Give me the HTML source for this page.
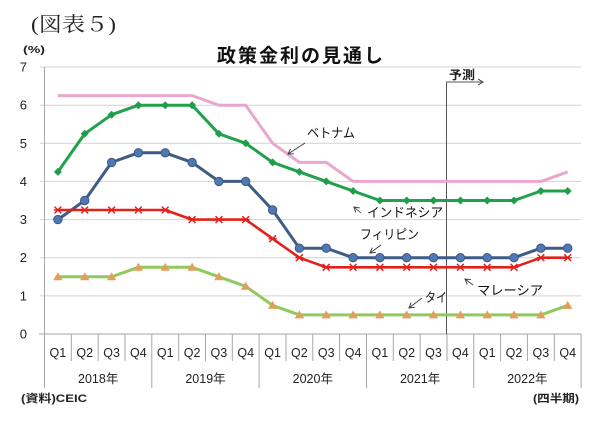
<!DOCTYPE html>
<html><head><meta charset="utf-8"><style>
html,body{margin:0;padding:0;background:#fff;}
svg{display:block;}
</style></head><body>
<svg width="600" height="426" viewBox="0 0 600 426" xmlns="http://www.w3.org/2000/svg" font-family="'Liberation Sans','Noto Sans CJK JP',sans-serif">
<defs>
<marker id="mD" markerWidth="10" markerHeight="10" refX="5" refY="5" markerUnits="userSpaceOnUse" orient="0"><polygon points="5,1 9,5 5,9 1,5" fill="#1E9E4A"/></marker>
<marker id="mC" markerWidth="12" markerHeight="12" refX="6" refY="6" markerUnits="userSpaceOnUse" orient="0"><circle cx="6" cy="6" r="4.2" fill="#5079B2" stroke="#3B5883" stroke-width="1"/></marker>
<marker id="mX" markerWidth="12" markerHeight="12" refX="6" refY="6" markerUnits="userSpaceOnUse" orient="0"><path d="M2.6,2.6 L9.4,9.4 M9.4,2.6 L2.6,9.4 M2,6 L10,6" stroke="#E3211B" stroke-width="1.5" fill="none"/></marker>
<marker id="mT" markerWidth="12" markerHeight="12" refX="6" refY="6" markerUnits="userSpaceOnUse" orient="0"><polygon points="6,1.5 10.7,9.5 1.3,9.5" fill="#E39E5E"/></marker>
<marker id="ah" markerWidth="8" markerHeight="8" refX="6" refY="4" markerUnits="userSpaceOnUse" orient="auto"><path d="M1,1 L6,4 L1,7" stroke="#333" stroke-width="0.9" fill="none"/></marker>
</defs>

<!-- header -->
<text x="31" y="31" font-size="20" font-family="'Liberation Serif','Noto Serif CJK SC',serif" textLength="85" lengthAdjust="spacingAndGlyphs" fill="#222">(図表５)</text>
<text x="23" y="53" font-size="10" font-weight="bold" textLength="22" lengthAdjust="spacingAndGlyphs" fill="#222">(%)</text>
<text x="217" y="62" font-size="19" font-weight="bold" textLength="166" lengthAdjust="spacing" fill="#111">政策金利の見通し</text>

<!-- gridlines -->
<g stroke="#D2D2D2" stroke-width="1">
<line x1="40" y1="295.9" x2="581" y2="295.9"/>
<line x1="40" y1="257.7" x2="581" y2="257.7"/>
<line x1="40" y1="219.6" x2="581" y2="219.6"/>
<line x1="40" y1="181.4" x2="581" y2="181.4"/>
<line x1="40" y1="143.3" x2="581" y2="143.3"/>
<line x1="40" y1="105.2" x2="581" y2="105.2"/>
<line x1="40" y1="67" x2="581" y2="67"/>
</g>
<!-- axes -->
<g stroke="#A6A6A6" stroke-width="1">
<line x1="44.5" y1="67" x2="44.5" y2="388"/>
<line x1="39" y1="334" x2="581" y2="334"/>
<line x1="71.3" y1="334" x2="71.3" y2="361"/>
<line x1="98.2" y1="334" x2="98.2" y2="361"/>
<line x1="125" y1="334" x2="125" y2="361"/>
<line x1="151.8" y1="334" x2="151.8" y2="388"/>
<line x1="178.7" y1="334" x2="178.7" y2="361"/>
<line x1="205.5" y1="334" x2="205.5" y2="361"/>
<line x1="232.3" y1="334" x2="232.3" y2="361"/>
<line x1="259.1" y1="334" x2="259.1" y2="388"/>
<line x1="286" y1="334" x2="286" y2="361"/>
<line x1="312.8" y1="334" x2="312.8" y2="361"/>
<line x1="339.6" y1="334" x2="339.6" y2="361"/>
<line x1="366.5" y1="334" x2="366.5" y2="388"/>
<line x1="393.3" y1="334" x2="393.3" y2="361"/>
<line x1="420.1" y1="334" x2="420.1" y2="361"/>
<line x1="447" y1="334" x2="447" y2="361"/>
<line x1="473.8" y1="334" x2="473.8" y2="388"/>
<line x1="500.6" y1="334" x2="500.6" y2="361"/>
<line x1="527.4" y1="334" x2="527.4" y2="361"/>
<line x1="554.3" y1="334" x2="554.3" y2="361"/>
<line x1="581.1" y1="334" x2="581.1" y2="388"/>
</g>

<!-- y labels -->
<g font-size="13" fill="#222" text-anchor="end">
<text x="27" y="338.5">0</text>
<text x="27" y="300.4">1</text>
<text x="27" y="262.2">2</text>
<text x="27" y="224.1">3</text>
<text x="27" y="185.9">4</text>
<text x="27" y="147.8">5</text>
<text x="27" y="109.7">6</text>
<text x="27" y="71.5">7</text>
</g>

<!-- x labels -->
<g font-size="12.5" fill="#222" text-anchor="middle">
<text x="57.9" y="357">Q1</text><text x="84.7" y="357">Q2</text><text x="111.6" y="357">Q3</text><text x="138.4" y="357">Q4</text>
<text x="165.2" y="357">Q1</text><text x="192.1" y="357">Q2</text><text x="218.9" y="357">Q3</text><text x="245.7" y="357">Q4</text>
<text x="272.6" y="357">Q1</text><text x="299.4" y="357">Q2</text><text x="326.2" y="357">Q3</text><text x="353.1" y="357">Q4</text>
<text x="379.9" y="357">Q1</text><text x="406.7" y="357">Q2</text><text x="433.5" y="357">Q3</text><text x="460.4" y="357">Q4</text>
<text x="487.2" y="357">Q1</text><text x="514" y="357">Q2</text><text x="540.9" y="357">Q3</text><text x="567.7" y="357">Q4</text>
<text x="98.2" y="383">2018年</text>
<text x="205.5" y="383">2019年</text>
<text x="312.8" y="383">2020年</text>
<text x="420.1" y="383">2021年</text>
<text x="527.4" y="383">2022年</text>
</g>

<text x="21" y="402" font-size="11" font-weight="bold" fill="#222" textLength="66" lengthAdjust="spacingAndGlyphs">(資料)CEIC</text>
<text x="533" y="402" font-size="11" font-weight="bold" fill="#222" textLength="46" lengthAdjust="spacingAndGlyphs">(四半期)</text>

<!-- forecast line -->
<line x1="446.5" y1="82" x2="446.5" y2="334" stroke="#555" stroke-width="1"/>
<line x1="446.5" y1="82" x2="483" y2="82" stroke="#555" stroke-width="0.9" marker-end="url(#ah)"/>
<text x="449" y="79" font-size="12" font-weight="bold" fill="#222" textLength="26" lengthAdjust="spacingAndGlyphs">予測</text>

<!-- series -->
<polyline fill="none" stroke="#EBA6CF" stroke-width="3" stroke-linejoin="round" points="57.9,95.6 84.7,95.6 111.6,95.6 138.4,95.6 165.2,95.6 192.1,95.6 218.9,105.2 245.7,105.2 272.6,143.3 299.4,162.4 326.2,162.4 353.1,181.4 379.9,181.4 406.7,181.4 433.5,181.4 460.4,181.4 487.2,181.4 514,181.4 540.9,181.4 567.7,171.9"/>

<polyline fill="none" stroke="#22A04B" stroke-width="3" stroke-linejoin="round" marker-start="url(#mD)" marker-mid="url(#mD)" marker-end="url(#mD)" points="57.9,171.9 84.7,133.8 111.6,114.7 138.4,105.2 165.2,105.2 192.1,105.2 218.9,133.8 245.7,143.3 272.6,162.4 299.4,171.9 326.2,181.4 353.1,191 379.9,200.5 406.7,200.5 433.5,200.5 460.4,200.5 487.2,200.5 514,200.5 540.9,191 567.7,191"/>

<polyline fill="none" stroke="#3F5C87" stroke-width="3" stroke-linejoin="round" marker-start="url(#mC)" marker-mid="url(#mC)" marker-end="url(#mC)" points="57.9,219.6 84.7,200.5 111.6,162.4 138.4,152.8 165.2,152.8 192.1,162.4 218.9,181.4 245.7,181.4 272.6,210 299.4,248.2 326.2,248.2 353.1,257.7 379.9,257.7 406.7,257.7 433.5,257.7 460.4,257.7 487.2,257.7 514,257.7 540.9,248.2 567.7,248.2"/>

<polyline fill="none" stroke="#E3211B" stroke-width="2.6" stroke-linejoin="round" marker-start="url(#mX)" marker-mid="url(#mX)" marker-end="url(#mX)" points="57.9,210 84.7,210 111.6,210 138.4,210 165.2,210 192.1,219.6 218.9,219.6 245.7,219.6 272.6,238.7 299.4,257.7 326.2,267.3 353.1,267.3 379.9,267.3 406.7,267.3 433.5,267.3 460.4,267.3 487.2,267.3 514,267.3 540.9,257.7 567.7,257.7"/>

<polyline fill="none" stroke="#90C95C" stroke-width="3" stroke-linejoin="round" marker-start="url(#mT)" marker-mid="url(#mT)" marker-end="url(#mT)" points="57.9,276.8 84.7,276.8 111.6,276.8 138.4,267.3 165.2,267.3 192.1,267.3 218.9,276.8 245.7,286.3 272.6,305.4 299.4,314.9 326.2,314.9 353.1,314.9 379.9,314.9 406.7,314.9 433.5,314.9 460.4,314.9 487.2,314.9 514,314.9 540.9,314.9 567.7,305.4"/>

<!-- annotations -->
<g font-size="13" fill="#111">
<text x="307" y="137.5" textLength="48" lengthAdjust="spacingAndGlyphs">ベトナム</text>
<text x="367" y="217" textLength="76" lengthAdjust="spacingAndGlyphs">インドネシア</text>
<text x="360" y="239" textLength="59" lengthAdjust="spacingAndGlyphs">フィリピン</text>
<text x="477" y="295" textLength="66" lengthAdjust="spacingAndGlyphs">マレーシア</text>
<text x="425" y="302" textLength="22" lengthAdjust="spacingAndGlyphs">タイ</text>
</g>
<g stroke="#333" stroke-width="0.8" fill="none">
<line x1="305" y1="143" x2="288" y2="154" marker-end="url(#ah)"/>
<line x1="361" y1="213" x2="354" y2="207" marker-end="url(#ah)"/>
<line x1="381" y1="245" x2="370" y2="253" marker-end="url(#ah)"/>
<line x1="473" y1="285" x2="465" y2="279" marker-end="url(#ah)"/>
<line x1="422" y1="298" x2="409" y2="308" marker-end="url(#ah)"/>
</g>
</svg>
</body></html>
